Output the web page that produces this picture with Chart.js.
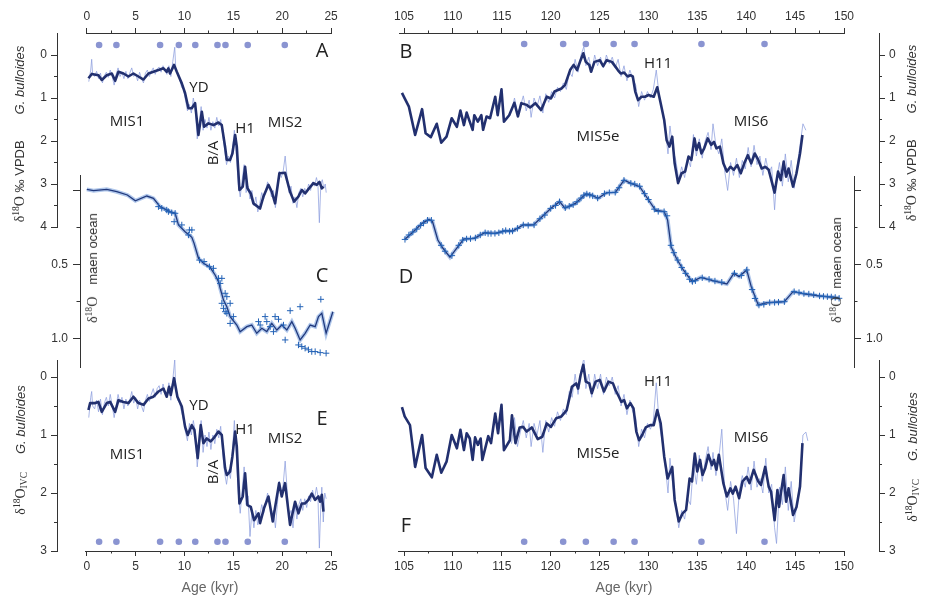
<!DOCTYPE html>
<html><head><meta charset="utf-8">
<script src="https://cdn.jsdelivr.net/npm/chart.js@4.4.1/dist/chart.umd.min.js"></script>
<style>
html,body{margin:0;padding:0;background:#fff;}
#wrap{position:relative;width:927px;height:598px;overflow:hidden;font-family:"Liberation Sans",Arial,sans-serif;color:#333;}
#wrap canvas{position:absolute;left:0;top:0;}
.t{position:absolute;white-space:nowrap;transform:translate(-50%,-50%);line-height:1;}
.r{transform:translate(-50%,-50%) rotate(-90deg);}
.ann{font-family:"Open Sans",sans-serif;font-size:15px;color:#222;}
.let{font-family:"Open Sans",sans-serif;font-size:20px;color:#222;}
.ttl{font-size:13px;color:#333;}
.d{font-family:"Liberation Serif",serif;font-size:14px;}
.d sup,.d sub{font-size:0.68em;line-height:0;}
.d sup{vertical-align:0.5em;} .d sub{vertical-align:-0.25em;}
.gap{display:inline-block;}
.age{font-size:14px;color:#666;}
</style></head><body>
<div id="wrap">
<canvas id="cAxTL" width="927" height="598"></canvas>
<canvas id="cAxTR" width="927" height="598"></canvas>
<canvas id="cAxBL" width="927" height="598"></canvas>
<canvas id="cAxBR" width="927" height="598"></canvas>
<canvas id="cA" width="927" height="598"></canvas>
<canvas id="cB" width="927" height="598"></canvas>
<canvas id="cC" width="927" height="598"></canvas>
<canvas id="cD" width="927" height="598"></canvas>
<canvas id="cE" width="927" height="598"></canvas>
<canvas id="cF" width="927" height="598"></canvas>

<div class="t let" style="left:322px;top:50px">A</div>
<div class="t let" style="left:406px;top:51px">B</div>
<div class="t let" style="left:322px;top:275px">C</div>
<div class="t let" style="left:406px;top:276px">D</div>
<div class="t let" style="left:322px;top:418px">E</div>
<div class="t let" style="left:406px;top:525px">F</div>

<div class="t ann" style="left:199px;top:86px">YD</div>
<div class="t ann" style="left:127px;top:120px">MIS1</div>
<div class="t ann" style="left:245px;top:127px">H1</div>
<div class="t ann" style="left:285px;top:121px">MIS2</div>
<div class="t ann r" style="left:212px;top:153px">B/A</div>
<div class="t ann" style="left:199px;top:404px">YD</div>
<div class="t ann" style="left:245px;top:428px">H1</div>
<div class="t ann" style="left:285px;top:437px">MIS2</div>
<div class="t ann" style="left:127px;top:453px">MIS1</div>
<div class="t ann r" style="left:212px;top:472px">B/A</div>
<div class="t ann" style="left:658px;top:62px">H11</div>
<div class="t ann" style="left:598px;top:135px">MIS5e</div>
<div class="t ann" style="left:751px;top:120px">MIS6</div>
<div class="t ann" style="left:658px;top:380px">H11</div>
<div class="t ann" style="left:598px;top:452px">MIS5e</div>
<div class="t ann" style="left:751px;top:436px">MIS6</div>

<div class="t r ttl" style="left:20px;top:134px"><span class="d">δ<sup>18</sup>O</span> ‰ VPDB<span class="gap" style="width:26px"></span><i>G. bulloides</i></div>
<div class="t r ttl" style="left:912px;top:133px"><span class="d">δ<sup>18</sup>O</span> ‰ VPDB<span class="gap" style="width:26px"></span><i>G. bulloides</i></div>
<div class="t r ttl" style="left:93px;top:268px"><span class="d">δ<sup>18</sup>O</span><span class="gap" style="width:12px"></span>maen ocean</div>
<div class="t r ttl" style="left:837px;top:270px"><span class="d">δ<sup>18</sup>O</span><span class="gap" style="width:8px"></span>maen ocean</div>
<div class="t r ttl" style="left:21px;top:450px"><span class="d">δ<sup>18</sup>O<sub>IVC</sub></span><span class="gap" style="width:18px"></span><i>G. bulloides</i></div>
<div class="t r ttl" style="left:913px;top:457px"><span class="d">δ<sup>18</sup>O<sub>IVC</sub></span><span class="gap" style="width:18px"></span><i>G. bulloides</i></div>

<div class="t age" style="left:210px;top:587px">Age (kyr)</div>
<div class="t age" style="left:624px;top:587px">Age (kyr)</div>
</div>
<script>
// ================= DATA =================
const leftAgeMajor = [0, 5, 10, 15, 20, 25];
const leftAgeMinor = [2.5, 7.5, 12.5, 17.5, 22.5];
const rightAgeMajor = [105, 110, 115, 120, 125, 130, 135, 140, 145, 150];
const rightAgeMinor = [107.5, 112.5, 117.5, 122.5, 127.5, 132.5, 137.5, 142.5, 147.5];
const bullMajor = [0, 1, 2, 3, 4];
const bullMinor = [0.5, 1.5, 2.5, 3.5];
const ivcMajor = [0, 1, 2, 3];
const ivcMinor = [0.5, 1.5, 2.5];
const oceanMajor = [0, 0.5, 1.0];
const oceanMinor = [0.25, 0.75];
const oceanLabelled = [0.5, 1.0];

const controlAgesLeft = [1.26, 3.03, 7.5, 9.42, 11.1, 13.37, 14.19, 16.47, 20.26];
const controlAgesRight = [117.29, 121.28, 123.6, 126.44, 128.58, 135.42, 141.87];

// Panel A: G. bulloides d18O (smoothed, raw), 0-25 kyr
const bullSmoothA = [[0.17,0.54],[0.51,0.44],[1.19,0.47],[1.53,0.58],[2.04,0.47],[2.56,0.43],[2.90,0.60],[3.24,0.39],[3.75,0.43],[4.26,0.50],[4.77,0.43],[5.28,0.50],[5.80,0.57],[6.31,0.43],[6.82,0.39],[7.33,0.35],[7.84,0.31],[8.18,0.39],[8.35,0.31],[8.52,0.43],[8.93,0.23],[9.21,0.39],[9.72,0.66],[10.06,0.89],[10.40,1.24],[10.74,1.24],[11.08,1.12],[11.42,1.86],[11.77,1.32],[12.00,1.67],[12.45,1.59],[12.96,1.63],[13.47,1.57],[13.81,1.63],[14.15,2.13],[14.32,2.44],[14.66,2.44],[14.90,2.29],[15.18,1.86],[15.35,2.13],[15.62,3.14],[15.96,3.06],[16.20,2.60],[16.44,3.10],[16.78,3.22],[17.05,3.45],[17.73,3.57],[18.08,3.29],[18.59,3.02],[18.93,3.18],[19.27,3.45],[19.71,2.75],[20.29,2.74],[20.80,3.18],[21.21,3.41],[21.66,3.29],[22.00,3.14],[22.34,3.22],[22.68,3.12],[23.19,2.98],[23.53,3.02],[23.81,2.95],[24.05,3.10],[24.22,3.06]];
const bullRawA = [[0.2,0.62],[0.4,0.35],[0.5,0.1],[0.6,0.45],[0.8,0.5],[1.0,0.38],[1.2,0.55],[1.4,0.42],[1.6,0.65],[1.8,0.48],[2.0,0.4],[2.2,0.52],[2.4,0.35],[2.6,0.5],[2.8,0.7],[3.0,0.45],[3.2,0.3],[3.4,0.5],[3.6,0.4],[3.8,0.55],[4.0,0.38],[4.2,0.55],[4.4,0.42],[4.6,0.3],[4.8,0.5],[5.0,0.45],[5.2,0.6],[5.4,0.4],[5.6,0.55],[5.8,0.65],[6.0,0.42],[6.2,0.35],[6.4,0.5],[6.6,0.38],[6.8,0.3],[7.0,0.45],[7.2,0.32],[7.4,0.28],[7.6,0.4],[7.8,0.25],[8.0,0.35],[8.2,0.45],[8.4,0.25],[8.6,0.5],[8.8,0.15],[9.0,-0.18],[9.1,0.3],[9.3,0.45],[9.5,0.55],[9.7,0.75],[9.9,0.8],[10.1,1.05],[10.3,1.3],[10.5,1.15],[10.7,1.35],[10.9,1.0],[11.1,1.25],[11.3,1.95],[11.5,1.6],[11.7,1.2],[11.9,1.75],[12.1,1.5],[12.3,1.7],[12.5,1.45],[12.7,1.75],[12.9,1.55],[13.1,1.7],[13.3,1.45],[13.5,1.65],[13.7,1.5],[13.9,1.85],[14.1,2.2],[14.3,2.55],[14.5,2.35],[14.7,2.5],[14.9,2.2],[15.1,1.75],[15.3,2.3],[15.5,3.0],[15.7,3.3],[15.9,2.9],[16.1,2.55],[16.3,3.2],[16.5,3.05],[16.7,3.35],[16.9,3.15],[17.1,3.5],[17.3,3.3],[17.5,3.65],[17.7,3.45],[17.9,3.2],[18.1,3.35],[18.3,3.15],[18.5,2.95],[18.7,3.1],[18.9,3.3],[19.1,3.15],[19.3,3.55],[19.5,3.1],[19.7,2.7],[19.9,2.85],[20.1,2.7],[20.3,2.35],[20.5,2.85],[20.7,3.2],[20.9,3.05],[21.1,3.45],[21.3,3.3],[21.5,3.55],[21.7,3.2],[21.9,3.1],[22.1,3.3],[22.3,3.1],[22.5,3.2],[22.7,3.0],[22.9,3.15],[23.1,2.95],[23.3,3.05],[23.5,2.85],[23.65,3.0],[23.8,3.9],[23.95,3.0],[24.1,2.9],[24.25,3.1],[24.4,3.0],[24.5,3.2]];

// Panel C: mean ocean d18O, 0-25 kyr
const oceanLineC = [[0.0,-0.009],[0.68,0.0],[2.04,-0.009],[3.07,0.007],[4.15,0.029],[4.97,0.068],[6.14,0.036],[6.82,0.052],[7.5,0.108],[8.53,0.142],[9.04,0.153],[9.38,0.232],[10.06,0.278],[10.75,0.316],[10.98,0.357],[11.43,0.458],[11.94,0.492],[12.62,0.519],[13.13,0.571],[13.48,0.616],[13.65,0.661],[13.99,0.741],[14.33,0.786],[14.67,0.853],[15.35,0.91],[15.69,0.955],[16.38,0.921],[16.88,0.91],[17.39,0.966],[17.91,0.932],[18.42,0.955],[18.93,0.899],[19.45,0.944],[19.96,0.91],[20.47,0.944],[20.98,0.887],[21.32,0.932],[21.83,1.011],[22.34,0.966],[22.86,0.91],[23.37,0.921],[23.71,0.853],[24.05,0.831],[24.49,0.966],[25.18,0.82]];
const oceanCrossC = [[7.33,0.108],[7.67,0.119],[8.18,0.131],[8.35,0.142],[8.69,0.149],[9.04,0.153],[8.94,0.21],[9.72,0.232],[10.5,0.266],[10.75,0.266],[10.4,0.3],[11.53,0.47],[12.0,0.48],[12.55,0.515],[12.96,0.526],[13.48,0.594],[13.82,0.594],[13.65,0.628],[14.16,0.695],[14.33,0.718],[13.82,0.763],[14.67,0.763],[13.99,0.797],[14.16,0.82],[14.33,0.831],[15.0,0.853],[14.67,0.899],[17.57,0.887],[18.25,0.853],[18.42,0.887],[19.27,0.853],[19.62,0.871],[20.13,0.91],[20.81,0.813],[21.83,0.786],[23.95,0.736],[20.3,1.011],[17.74,0.91],[18.76,0.921],[19.1,0.955],[21.66,1.045],[22.0,1.056],[22.34,1.067],[22.68,1.078],[23.02,1.09],[23.37,1.09],[23.88,1.097],[24.49,1.101]];

// Panel E: d18O IVC, 0-25 kyr
const ivcSmoothE = [[0.17,0.57],[0.34,0.45],[0.85,0.45],[1.19,0.43],[1.53,0.60],[2.04,0.45],[2.39,0.43],[2.90,0.60],[3.24,0.40],[3.75,0.43],[4.26,0.45],[4.77,0.34],[5.28,0.45],[5.80,0.48],[6.31,0.37],[6.82,0.34],[7.33,0.25],[7.84,0.20],[8.18,0.34],[8.42,0.17],[8.59,0.31],[8.93,0.02],[9.27,0.34],[9.72,0.51],[10.06,0.86],[10.33,1.00],[10.74,0.83],[11.01,0.91],[11.35,1.40],[11.66,0.83],[11.93,1.14],[12.27,1.06],[12.68,1.11],[12.96,1.06],[13.47,0.94],[13.81,1.00],[14.15,1.57],[14.32,1.69],[14.66,1.63],[14.90,1.37],[15.18,0.94],[15.35,1.20],[15.62,2.18],[15.96,2.06],[16.20,1.66],[16.44,2.21],[16.78,2.24],[17.12,2.47],[17.57,2.35],[17.73,2.52],[18.14,2.26],[18.59,2.06],[19.03,2.49],[19.68,1.83],[19.95,2.06],[20.29,1.83],[20.80,2.55],[21.31,2.15],[21.66,2.35],[22.00,2.18],[22.34,2.18],[22.68,2.12],[23.02,2.01],[23.36,2.12],[23.70,2.06],[23.87,2.15],[24.05,2.03],[24.22,2.32]];
const ivcRawE = [[0.2,0.7],[0.4,0.35],[0.5,0.25],[0.6,0.5],[0.8,0.55],[1.0,0.4],[1.2,0.6],[1.4,0.38],[1.6,0.65],[1.8,0.45],[2.0,0.35],[2.2,0.5],[2.4,0.3],[2.6,0.5],[2.8,0.7],[3.0,0.5],[3.2,0.3],[3.4,0.45],[3.6,0.35],[3.8,0.55],[4.0,0.38],[4.2,0.5],[4.4,0.4],[4.6,0.25],[4.8,0.45],[5.0,0.35],[5.2,0.55],[5.4,0.4],[5.6,0.5],[5.8,0.6],[6.0,0.4],[6.2,0.3],[6.4,0.42],[6.6,0.3],[6.8,0.2],[7.0,0.35],[7.2,0.2],[7.4,0.15],[7.6,0.3],[7.8,0.12],[8.0,0.25],[8.2,0.35],[8.4,0.1],[8.6,0.4],[8.8,0.05],[9.0,-0.3],[9.1,0.2],[9.3,0.4],[9.5,0.45],[9.7,0.6],[9.9,0.75],[10.1,0.95],[10.3,1.1],[10.5,0.8],[10.7,1.0],[10.9,0.75],[11.1,0.95],[11.3,1.55],[11.5,1.2],[11.7,0.75],[11.9,1.3],[12.1,1.0],[12.3,1.2],[12.5,0.95],[12.7,1.25],[12.9,1.0],[13.1,1.15],[13.3,0.9],[13.5,1.05],[13.7,0.85],[13.9,1.3],[14.1,1.65],[14.3,1.85],[14.5,1.6],[14.7,1.75],[14.9,1.3],[15.1,0.75],[15.3,1.35],[15.5,2.0],[15.7,2.35],[15.9,1.95],[16.1,1.55],[16.3,2.2],[16.5,2.05],[16.7,2.75],[16.9,2.3],[17.1,2.6],[17.3,2.3],[17.5,2.55],[17.7,2.4],[17.9,2.2],[18.1,2.35],[18.3,2.15],[18.5,2.0],[18.7,2.15],[18.9,2.4],[19.1,2.3],[19.3,2.6],[19.5,2.2],[19.7,1.8],[19.9,2.0],[20.1,1.85],[20.3,1.45],[20.5,1.95],[20.7,2.4],[20.9,2.3],[21.1,2.6],[21.3,2.2],[21.5,2.45],[21.7,2.2],[21.9,2.1],[22.1,2.3],[22.3,2.1],[22.5,2.25],[22.7,2.05],[22.9,2.15],[23.1,1.95],[23.3,2.1],[23.5,1.9],[23.65,2.05],[23.8,2.95],[23.95,2.2],[24.05,1.9],[24.2,2.5],[24.35,2.0],[24.5,2.1]];

// Panel B: G. bulloides d18O, 105-150 kyr
const bullSmoothB = [[104.79,0.88],[105.07,1.01],[105.50,1.20],[106.14,1.86],[106.85,1.26],[107.21,1.82],[107.74,1.91],[108.35,1.60],[108.81,2.04],[109.35,1.90],[109.88,1.47],[110.41,1.67],[110.77,1.29],[111.13,1.63],[111.41,1.34],[111.66,1.51],[112.02,1.74],[112.19,1.40],[112.55,1.55],[112.91,1.40],[113.09,1.74],[113.44,1.43],[113.80,1.47],[114.33,0.97],[114.58,1.40],[114.97,0.80],[115.22,1.55],[115.76,1.40],[116.29,1.11],[116.65,1.43],[117.00,1.12],[117.54,1.16],[117.90,1.22],[118.43,1.12],[119.03,1.28],[119.60,0.97],[120.03,1.01],[120.39,0.85],[121.10,0.78],[121.46,0.70],[121.99,0.35],[122.35,0.23],[122.70,0.35],[123.06,0.12],[123.34,-0.04],[123.59,0.16],[123.95,0.23],[124.13,0.39],[124.48,0.16],[125.02,0.12],[125.37,0.26],[125.73,0.12],[126.26,0.16],[126.62,0.27],[126.87,0.35],[127.16,0.43],[127.51,0.41],[127.87,0.50],[128.15,0.47],[128.40,0.50],[128.65,0.85],[128.94,1.05],[129.29,0.97],[129.65,0.97],[130.01,0.93],[130.54,0.97],[130.90,0.75],[131.25,1.12],[131.61,1.51],[131.86,1.98],[132.14,2.13],[132.43,1.90],[132.68,2.52],[133.03,2.98],[133.39,2.75],[133.75,2.71],[134.10,2.36],[134.39,2.44],[134.71,1.94],[134.92,2.21],[135.17,2.05],[135.42,2.29],[135.70,2.17],[136.06,1.94],[136.42,2.09],[136.70,2.02],[136.95,2.17],[137.31,2.13],[137.66,2.52],[138.02,2.71],[138.38,2.60],[138.73,2.67],[139.09,2.56],[139.44,2.75],[139.80,2.52],[140.16,2.33],[140.51,2.52],[140.87,2.29],[141.23,2.44],[141.58,2.64],[141.94,2.60],[142.30,2.67],[142.65,2.98],[142.90,3.20],[143.26,2.71],[143.54,2.91],[143.83,2.48],[144.08,2.83],[144.33,2.64],[144.79,3.06],[145.14,2.75],[145.50,2.29],[145.75,1.86]];
const bullRawB = [[116.0,1.3],[116.3,1.0],[116.6,1.35],[116.9,1.2],[117.2,0.95],[117.5,1.3],[117.8,1.05],[118.0,1.45],[118.3,1.0],[118.6,1.2],[118.9,0.95],[119.2,1.35],[119.5,0.9],[119.8,1.1],[120.1,0.85],[120.4,1.0],[120.7,0.75],[121.0,0.85],[121.3,0.65],[121.6,0.8],[121.9,0.4],[122.2,0.5],[122.5,0.1],[122.8,0.4],[123.1,0.0],[123.4,-0.2],[123.6,0.25],[123.9,0.05],[124.2,0.4],[124.5,0.0],[124.8,0.25],[125.1,0.05],[125.4,0.3],[125.7,0.0],[126.0,0.2],[126.3,0.05],[126.6,0.3],[126.9,0.1],[127.2,0.5],[127.5,0.25],[127.8,0.6],[128.1,0.35],[128.4,0.55],[128.7,0.7],[129.0,1.2],[129.3,0.85],[129.6,1.05],[129.9,0.85],[130.2,1.0],[130.5,0.8],[130.8,0.35],[131.1,0.95],[131.4,1.3],[131.7,1.7],[132.0,2.3],[132.2,1.65],[132.5,2.2],[132.8,2.45],[133.1,2.9],[133.4,2.6],[133.7,2.85],[134.0,2.4],[134.3,2.6],[134.6,1.85],[134.9,2.35],[135.2,1.95],[135.5,2.4],[135.8,2.0],[136.1,1.8],[136.4,2.2],[136.6,1.6],[136.9,2.1],[137.2,2.3],[137.5,1.95],[137.8,2.7],[138.1,3.15],[138.4,2.5],[138.7,2.8],[139.0,2.4],[139.3,2.85],[139.6,2.45],[139.9,2.65],[140.2,2.15],[140.5,2.6],[140.8,2.1],[141.1,2.55],[141.4,2.35],[141.7,2.8],[142.0,2.4],[142.3,2.75],[142.6,2.6],[142.9,3.6],[143.1,2.9],[143.4,2.5],[143.7,3.05],[144.0,2.3],[144.3,2.95],[144.6,2.45],[144.9,3.1],[145.2,2.6],[145.5,2.1],[145.8,1.6],[146.1,1.75]];

// Panel D: mean ocean d18O, 105-150 kyr
const oceanLineD = [[105.07,0.33],[106.14,0.266],[106.85,0.221],[107.56,0.194],[107.92,0.21],[108.46,0.334],[108.99,0.39],[109.70,0.451],[110.24,0.402],[111.13,0.327],[112.19,0.323],[113.26,0.284],[114.33,0.289],[115.40,0.271],[116.11,0.273],[117.18,0.232],[118.25,0.232],[118.96,0.187],[120.03,0.119],[120.92,0.074],[121.46,0.119],[122.53,0.086],[123.59,0.022],[124.13,0.029],[124.84,0.052],[125.73,0.013],[126.62,0.011],[127.51,-0.072],[128.22,-0.05],[129.11,-0.027],[130.01,0.063],[130.72,0.131],[131.61,0.142],[131.96,0.199],[132.32,0.379],[132.85,0.458],[133.57,0.537],[134.46,0.616],[135.35,0.587],[136.77,0.612],[138.02,0.632],[138.73,0.56],[139.27,0.582],[140.05,0.537],[140.51,0.65],[141.23,0.774],[142.12,0.759],[143.90,0.752],[144.79,0.684],[146.03,0.70],[147.46,0.713],[148.88,0.722],[149.52,0.729]];
const oceanCrossD = [[105.1,0.33],[105.5,0.30],[105.9,0.28],[106.3,0.26],[106.7,0.235],[107.0,0.22],[107.4,0.20],[107.8,0.20],[108.8,0.37],[109.2,0.41],[109.9,0.44],[110.6,0.37],[111.0,0.335],[111.4,0.327],[111.8,0.325],[112.3,0.32],[112.8,0.30],[113.3,0.285],[113.6,0.29],[113.9,0.29],[114.3,0.289],[114.7,0.285],[115.1,0.275],[115.4,0.27],[115.8,0.275],[116.1,0.273],[116.6,0.255],[117.2,0.232],[117.7,0.235],[118.3,0.232],[118.9,0.19],[119.4,0.165],[120.0,0.12],[120.5,0.1],[120.9,0.075],[121.5,0.115],[121.9,0.105],[122.3,0.095],[122.7,0.075],[123.1,0.05],[123.4,0.03],[123.7,0.022],[124.0,0.03],[124.3,0.035],[124.8,0.05],[125.5,0.02],[126.0,0.013],[126.6,0.011],[127.0,-0.02],[127.5,-0.07],[128.2,-0.05],[128.6,-0.045],[129.1,-0.03],[129.6,0.02],[130.0,0.06],[130.6,0.125],[131.0,0.14],[131.6,0.142],[131.9,0.17],[132.3,0.37],[132.6,0.42],[133.0,0.47],[133.4,0.52],[133.8,0.56],[134.2,0.6],[134.5,0.615],[134.8,0.61],[135.5,0.59],[136.2,0.60],[136.8,0.612],[137.5,0.62],[138.8,0.56],[139.5,0.575],[140.05,0.537],[140.6,0.67],[140.9,0.73],[141.3,0.775],[141.8,0.77],[142.4,0.758],[142.9,0.757],[143.3,0.755],[143.9,0.752],[144.9,0.684],[145.4,0.69],[145.9,0.697],[146.4,0.70],[146.9,0.705],[147.5,0.713],[147.9,0.716],[148.3,0.718],[148.7,0.72],[149.1,0.723],[149.5,0.729]];

// Panel F: d18O IVC, 105-150 kyr
const ivcSmoothF = [[104.79,0.52],[105.07,0.68],[105.61,0.83],[106.14,1.55],[106.85,1.00],[107.21,1.57],[107.85,1.73],[108.35,1.34],[108.81,1.65],[109.35,1.46],[109.88,1.00],[110.41,1.23],[110.77,0.91],[111.13,1.26],[111.41,0.97],[111.73,1.06],[112.02,1.43],[112.27,1.04],[112.55,1.17],[112.84,1.06],[113.01,1.43],[113.62,1.02],[113.90,1.14],[114.33,0.63],[114.62,0.97],[114.97,0.48],[115.22,1.26],[115.83,1.09],[116.04,0.66],[116.40,1.14],[116.83,0.87],[117.18,0.86],[117.54,0.94],[118.07,0.87],[118.68,1.07],[119.14,1.03],[119.60,0.80],[120.03,0.86],[120.57,0.71],[121.10,0.68],[121.64,0.57],[122.17,0.17],[122.60,0.11],[122.81,0.20],[123.06,-0.03],[123.34,-0.21],[123.59,0.08],[123.95,0.11],[124.20,0.28],[124.59,0.08],[125.02,0.05],[125.45,0.25],[125.91,0.08],[126.37,0.11],[126.62,0.22],[126.98,0.34],[127.23,0.43],[127.51,0.40],[127.80,0.54],[128.15,0.45],[128.47,0.54],[128.76,0.94],[129.04,1.09],[129.36,1.00],[129.72,0.87],[130.18,0.83],[130.54,0.83],[130.90,0.57],[131.25,0.80],[131.61,1.37],[131.96,1.75],[132.43,1.55],[132.68,2.12],[133.10,2.49],[133.50,2.35],[133.85,2.29],[134.21,1.75],[134.46,1.80],[134.74,1.32],[134.99,1.63],[135.28,1.43],[135.53,1.69],[135.81,1.57],[136.13,1.34],[136.49,1.52],[136.70,1.43],[136.95,1.60],[137.20,1.34],[137.66,1.83],[138.02,2.06],[138.38,1.92],[138.63,2.01],[138.91,1.89],[139.27,2.09],[139.62,1.80],[140.05,1.72],[140.34,1.83],[140.76,1.60],[141.23,1.80],[141.51,1.86],[141.94,1.55],[142.30,1.89],[142.54,1.98],[142.90,2.47],[143.19,1.95],[143.36,2.24],[143.54,2.01],[143.83,1.69],[144.08,2.15],[144.33,1.92],[144.79,2.38],[145.14,2.24],[145.50,1.89],[145.75,1.14]];
const ivcRawF = [[116.0,1.15],[116.3,0.7],[116.6,1.2],[116.9,0.95],[117.2,0.75],[117.5,1.05],[117.8,0.8],[118.0,1.2],[118.3,0.8],[118.6,1.0],[118.9,0.75],[119.2,1.3],[119.5,0.75],[119.8,0.95],[120.1,0.7],[120.4,0.85],[120.7,0.6],[121.0,0.75],[121.3,0.55],[121.6,0.65],[121.9,0.25],[122.2,0.35],[122.5,-0.05],[122.8,0.3],[123.1,-0.1],[123.4,-0.33],[123.6,0.2],[123.9,-0.05],[124.2,0.35],[124.5,-0.05],[124.8,0.2],[125.1,-0.05],[125.4,0.3],[125.7,0.0],[126.0,0.15],[126.3,0.0],[126.6,0.3],[126.9,0.15],[127.2,0.5],[127.5,0.3],[127.8,0.65],[128.1,0.4],[128.4,0.6],[128.7,0.7],[129.0,1.2],[129.3,0.9],[129.6,1.05],[129.9,0.8],[130.2,0.9],[130.5,0.75],[130.8,0.1],[131.1,0.8],[131.4,1.1],[131.7,1.5],[132.0,2.0],[132.2,1.4],[132.5,1.9],[132.8,2.2],[133.1,2.6],[133.4,2.3],[133.7,2.45],[134.0,2.1],[134.3,2.2],[134.6,1.5],[134.9,1.85],[135.2,1.35],[135.5,1.8],[135.8,1.45],[136.1,1.2],[136.4,1.6],[136.6,1.3],[136.9,1.7],[137.2,1.4],[137.5,0.9],[137.8,1.95],[138.1,2.3],[138.4,1.8],[138.7,2.1],[139.0,2.7],[139.3,1.95],[139.6,1.7],[139.9,1.9],[140.2,1.55],[140.5,1.95],[140.8,1.45],[141.1,1.9],[141.4,1.75],[141.7,2.0],[142.0,1.4],[142.3,2.0],[142.6,1.85],[142.9,2.6],[143.1,2.87],[143.4,1.9],[143.7,2.2],[144.0,1.55],[144.3,2.3],[144.6,1.8],[144.9,2.5],[145.2,2.2],[145.5,1.8],[145.8,1.0],[146.1,0.95],[146.3,1.1]];

// ================= LAYOUT / STYLE =================
const W = 927, H = 598;
const AXW = 45, AXH = 26;           // reserved room for tick labels
const INK = '#333';
const NAVY = '#22306f';
const RAW = 'rgba(140,158,222,0.75)';
const DOT = '#8a94d1';
const OCEAN = '#21397c';
const BAND = 'rgba(150,180,228,0.75)';
const CROSS = '#2362b6';
const TICKFONT = {family: '"Liberation Sans", Arial, sans-serif', size: 12};
const LEFTMAP = {a0: 0, p0: 86.8, k: 9.772};
const RIGHTMAP = {a0: 105, p0: 404, k: 9.778};

function xRange(map, l, r) { return {min: map.a0 + (l - map.p0) / map.k, max: map.a0 + (r - map.p0) / map.k}; }
function yRange(q0, m, t, b) { return {min: (t - q0) / m, max: (b - q0) / m}; }
function setTicks(vals) { return s => { s.ticks = vals.map(v => ({value: v})); }; }
function pts(arr) { return arr.map(p => ({x: p[0], y: p[1]})); }

function yScale(pos, rng, vals, tickLen, major, labelFn, pad) {
  return {
    type: 'linear', position: pos, reverse: true, min: rng.min, max: rng.max, bounds: 'data',
    weight: major ? 10 : 0,
    afterFit: s => { s.width = major ? AXW : 0; },
    afterBuildTicks: setTicks(vals),
    border: {display: major, color: INK, width: 1},
    grid: {display: true, drawOnChartArea: false, drawTicks: true, tickLength: tickLen, tickColor: INK, tickWidth: 1},
    ticks: {display: !!labelFn, autoSkip: false, padding: pad || 4, color: INK, font: TICKFONT, maxRotation: 0,
            callback: labelFn || (() => '')}
  };
}
function xScale(pos, rng, vals, tickLen, major, labelFn, pad) {
  return {
    type: 'linear', position: pos, min: rng.min, max: rng.max, bounds: 'data',
    weight: major ? 10 : 0,
    afterFit: s => { s.height = major ? AXH : 0; },
    afterBuildTicks: setTicks(vals),
    border: {display: major, color: INK, width: 1},
    grid: {display: true, drawOnChartArea: false, drawTicks: true, tickLength: tickLen, tickColor: INK, tickWidth: 1},
    ticks: {display: !!labelFn, autoSkip: false, padding: pad || 4, color: INK, font: TICKFONT, maxRotation: 0,
            callback: labelFn || (() => '')}
  };
}
// area = wanted chart area (px); room = space taken by visible axes on each side
function build(id, area, room, datasets, scales) {
  return new Chart(document.getElementById(id), {
    type: 'scatter',
    data: {datasets},
    options: {
      responsive: false, animation: false, devicePixelRatio: 1, events: [],
      layout: {autoPadding: false, padding: {
        left: area.l - (room.l || 0), right: W - area.r - (room.r || 0),
        top: area.t - (room.t || 0), bottom: H - area.b - (room.b || 0)}},
      plugins: {legend: {display: false}, tooltip: {enabled: false}},
      scales
    }
  });
}
const intLabel = v => String(v);
const oceanLabel = v => oceanLabelled.includes(v) ? v.toFixed(1) : '';

function smoothDs(arr) { return {data: pts(arr), showLine: true, borderColor: NAVY, borderWidth: 2.6, pointRadius: 0, borderJoinStyle: 'round', tension: 0, order: 1}; }
function rawDs(arr) { return {data: pts(arr), showLine: true, borderColor: RAW, borderWidth: 1, pointRadius: 0, tension: 0, order: 3}; }
function dotDs(ages, yv) { return {data: ages.map(a => ({x: a, y: yv})), showLine: false, pointRadius: 3.3, pointBackgroundColor: DOT, pointBorderWidth: 0, order: 0}; }

// ---- x axes ----
const aTL = {l: 86, r: 331.3, t: 33, b: 300};
build('cAxTL', aTL, {t: AXH}, [], {
  x: xScale('top', xRange(LEFTMAP, aTL.l, aTL.r), leftAgeMajor, 5, true, intLabel, 4),
  xm: xScale('top', xRange(LEFTMAP, aTL.l, aTL.r), leftAgeMinor, 2.5, false, null),
  y: {display: false, min: 0, max: 1}
});
const aTR = {l: 399, r: 844.3, t: 33, b: 300};
build('cAxTR', aTR, {t: AXH}, [], {
  x: xScale('top', xRange(RIGHTMAP, aTR.l, aTR.r), rightAgeMajor, 5, true, intLabel, 4),
  xm: xScale('top', xRange(RIGHTMAP, aTR.l, aTR.r), rightAgeMinor, 2.5, false, null),
  y: {display: false, min: 0, max: 1}
});
const aBL = {l: 85, r: 331.3, t: 300, b: 551};
build('cAxBL', aBL, {b: AXH}, [], {
  x: xScale('bottom', xRange(LEFTMAP, aBL.l, aBL.r), leftAgeMajor, 5, true, intLabel, 3),
  xm: xScale('bottom', xRange(LEFTMAP, aBL.l, aBL.r), leftAgeMinor, 2.5, false, null),
  y: {display: false, min: 0, max: 1}
});
const aBR = {l: 398, r: 844.3, t: 300, b: 551};
build('cAxBR', aBR, {b: AXH}, [], {
  x: xScale('bottom', xRange(RIGHTMAP, aBR.l, aBR.r), rightAgeMajor, 5, true, intLabel, 3),
  xm: xScale('bottom', xRange(RIGHTMAP, aBR.l, aBR.r), rightAgeMinor, 2.5, false, null),
  y: {display: false, min: 0, max: 1}
});

// ---- Panel A ----
const gA = {l: 57, r: 331.3, t: 33, b: 227};
const yA = yRange(55, 43, gA.t, gA.b);
build('cA', gA, {l: AXW}, [smoothDs(bullSmoothA), rawDs(bullRawA), dotDs(controlAgesLeft, (45 - 55) / 43)], {
  x: {type: 'linear', display: false, ...xRange(LEFTMAP, gA.l, gA.r)},
  y: yScale('left', yA, bullMajor, 6, true, intLabel, 4),
  ym: yScale('left', yA, bullMinor, 3, false, null)
});
// ---- Panel B ----
const gB = {l: 398, r: 879, t: 33, b: 227};
const yB = yRange(55, 43, gB.t, gB.b);
build('cB', gB, {r: AXW}, [smoothDs(bullSmoothB), rawDs(bullRawB), dotDs(controlAgesRight, (44 - 55) / 43)], {
  x: {type: 'linear', display: false, ...xRange(RIGHTMAP, gB.l, gB.r)},
  y: yScale('right', yB, bullMajor, 6, true, intLabel, 4),
  ym: yScale('right', yB, bullMinor, 3, false, null)
});
// ---- Panel C ----
const gC = {l: 80, r: 340, t: 175, b: 367};
const yC = yRange(190.7, 147.6, gC.t, gC.b);
build('cC', gC, {l: AXW}, [
  {data: pts(oceanCrossC), showLine: false, pointStyle: 'cross', pointRadius: 3.2, pointBorderColor: CROSS, pointBorderWidth: 1, order: 0},
  {data: pts(oceanLineC), showLine: true, borderColor: OCEAN, borderWidth: 1.3, pointRadius: 0, tension: 0, order: 1},
  {data: pts(oceanLineC), showLine: true, borderColor: BAND, borderWidth: 4, pointRadius: 0, tension: 0, order: 2}
], {
  x: {type: 'linear', display: false, ...xRange(LEFTMAP, gC.l, gC.r)},
  y: yScale('left', yC, oceanMajor, 7, true, oceanLabel, 5),
  ym: yScale('left', yC, oceanMinor, 3.5, false, null)
});
// ---- Panel D ----
const gD = {l: 398, r: 854, t: 176, b: 367};
const yD = yRange(190.7, 147.6, gD.t, gD.b);
build('cD', gD, {r: AXW}, [
  {data: pts(oceanCrossD), showLine: false, pointStyle: 'cross', pointRadius: 3.2, pointBorderColor: CROSS, pointBorderWidth: 1, order: 0},
  {data: pts(oceanLineD), showLine: true, borderColor: OCEAN, borderWidth: 1.3, pointRadius: 0, tension: 0, order: 1},
  {data: pts(oceanLineD), showLine: true, borderColor: BAND, borderWidth: 4, pointRadius: 0, tension: 0, order: 2}
], {
  x: {type: 'linear', display: false, ...xRange(RIGHTMAP, gD.l, gD.r)},
  y: yScale('right', yD, oceanMajor, 7, true, oceanLabel, 5),
  ym: yScale('right', yD, oceanMinor, 3.5, false, null)
});
// ---- Panel E ----
const gE = {l: 57, r: 331.3, t: 360, b: 551};
const yE = yRange(377, 58, gE.t, gE.b);
build('cE', gE, {l: AXW}, [smoothDs(ivcSmoothE), rawDs(ivcRawE), dotDs(controlAgesLeft, (541.7 - 377) / 58)], {
  x: {type: 'linear', display: false, ...xRange(LEFTMAP, gE.l, gE.r)},
  y: yScale('left', yE, ivcMajor, 6, true, intLabel, 4),
  ym: yScale('left', yE, ivcMinor, 3, false, null)
});
// ---- Panel F ----
const gF = {l: 398, r: 879, t: 360, b: 551};
const yF = yRange(377, 58, gF.t, gF.b);
build('cF', gF, {r: AXW}, [smoothDs(ivcSmoothF), rawDs(ivcRawF), dotDs(controlAgesRight, (541.7 - 377) / 58)], {
  x: {type: 'linear', display: false, ...xRange(RIGHTMAP, gF.l, gF.r)},
  y: yScale('right', yF, ivcMajor, 6, true, intLabel, 4),
  ym: yScale('right', yF, ivcMinor, 3, false, null)
});
</script>
</body></html>
